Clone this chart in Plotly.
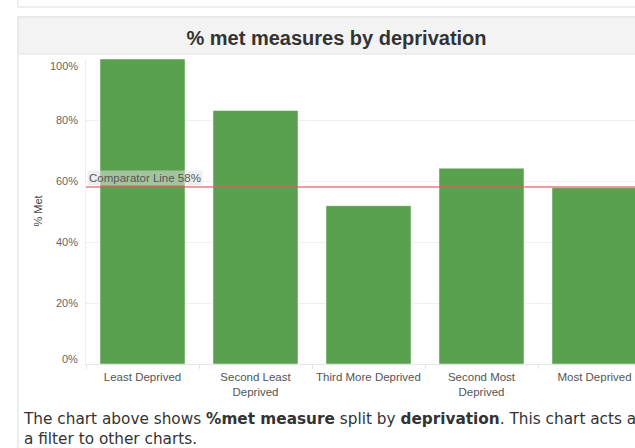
import plotly.graph_objects as go

categories = ["Least Deprived", "Second Least<br>Deprived", "Third More Deprived",
              "Second Most<br>Deprived", "Most Deprived"]
pct_met = [100.0, 83.1, 51.9, 64.2, 57.8]
comparator = 58
comparator_label = "Comparator Line 58%"
y_ticks = [0, 20, 40, 60, 80, 100]
y_tick_labels = ["0%", "20%", "40%", "60%", "80%", "100%"]
title_text = "% met measures by deprivation"
y_title = "% Met"
caption = ("The chart above shows <b>%met measure</b> split by <b>deprivation</b>. "
           "This chart acts as<br>a filter to other charts.")

W, H = 635, 448
L, R, T, B = 86, 0, 59, 84
PW, PH = W - L - R, H - T - B
FONT = "Arial, Liberation Sans"


def px_x(p):
    return (p - L) / PW


def px_y(p):
    return (H - B - p) / PH


fig = go.Figure()
fig.add_trace(go.Bar(
    x=categories, y=pct_met,
    marker=dict(color="#59A14F", line=dict(color="rgba(255,255,255,0.45)", width=1)),
    hoverinfo="x+y",
))

shapes = [
    dict(type="rect", xref="paper", yref="paper", x0=px_x(18), x1=px_x(660),
         y0=px_y(7), y1=px_y(-10), line=dict(color="#dddddd", width=1),
         fillcolor="white", layer="below"),
    dict(type="rect", xref="paper", yref="paper", x0=px_x(18), x1=px_x(660),
         y0=px_y(470), y1=px_y(17), line=dict(color="#dddddd", width=1),
         fillcolor="white", layer="below"),
    dict(type="rect", xref="paper", yref="paper", x0=px_x(18), x1=px_x(660),
         y0=px_y(54), y1=px_y(17), line=dict(color="#e2e2e2", width=1),
         fillcolor="#f3f3f3", layer="below"),
    dict(type="line", xref="paper", yref="y", x0=0, x1=1, y0=comparator, y1=comparator,
         line=dict(color="rgba(232,90,95,0.6)", width=2), layer="above"),
]

annotations = [
    dict(text=comparator_label, xref="paper", yref="y", x=px_x(87), y=comparator,
         xanchor="left", yanchor="bottom", yshift=1, showarrow=False,
         bgcolor="rgba(225,225,225,0.55)", borderpad=1,
         font=dict(size=11.5, color="#555555", family=FONT)),
    dict(text=y_title, xref="paper", yref="paper", x=px_x(37), y=0.5,
         xanchor="center", yanchor="middle", textangle=-90, showarrow=False,
         font=dict(size=11, color="#444444", family=FONT)),
    dict(text=caption, xref="paper", yref="paper", x=px_x(21), y=px_y(429),
         xanchor="left", yanchor="middle", align="left", showarrow=False,
         font=dict(size=15.3, color="#333333", family="DejaVu Sans")),
]

for v, lab in zip(y_ticks, y_tick_labels):
    shift = -7 if v == max(y_ticks) else (5 if v == min(y_ticks) else 0)
    annotations.append(dict(
        text=lab, xref="paper", yref="y", x=px_x(80), y=v, yshift=shift,
        xanchor="right", yanchor="middle", showarrow=False,
        font=dict(size=11, color="#666666", family=FONT)))

fig.update_layout(
    width=W, height=H,
    margin=dict(l=L, r=R, t=T, b=B, pad=0, autoexpand=False),
    paper_bgcolor="white", plot_bgcolor="white",
    font=dict(family=FONT, color="#555555"),
    title=dict(text=f"<b>{title_text}</b>", x=336.5 / W, y=1 - 38 / H,
               xanchor="center", yanchor="middle",
               font=dict(size=20, color="#333333", family=FONT)),
    bargap=0.248,
    showlegend=False,
    shapes=shapes,
    annotations=annotations,
    xaxis=dict(
        type="category",
        range=[-0.5, -0.5 + PW / 113],
        tickson="boundaries", ticks="outside", ticklen=4, tickcolor="#e6e6e6",
        showgrid=False, showline=True, linecolor="#e6e6e6", linewidth=1,
        tickfont=dict(size=11.5, color="#555555"),
        tickangle=0, automargin=False,
        ticklabelstandoff=2,
        fixedrange=True,
    ),
    yaxis=dict(
        range=[0, 100], tickvals=y_ticks, showticklabels=False,
        showgrid=True, gridcolor="#f0f0f0", gridwidth=1,
        showline=True, linecolor="#eeeeee", linewidth=1,
        zeroline=False, ticks="", automargin=False,
        fixedrange=True,
    ),
)

fig.write_html("out.html", config={"displayModeBar": False})
